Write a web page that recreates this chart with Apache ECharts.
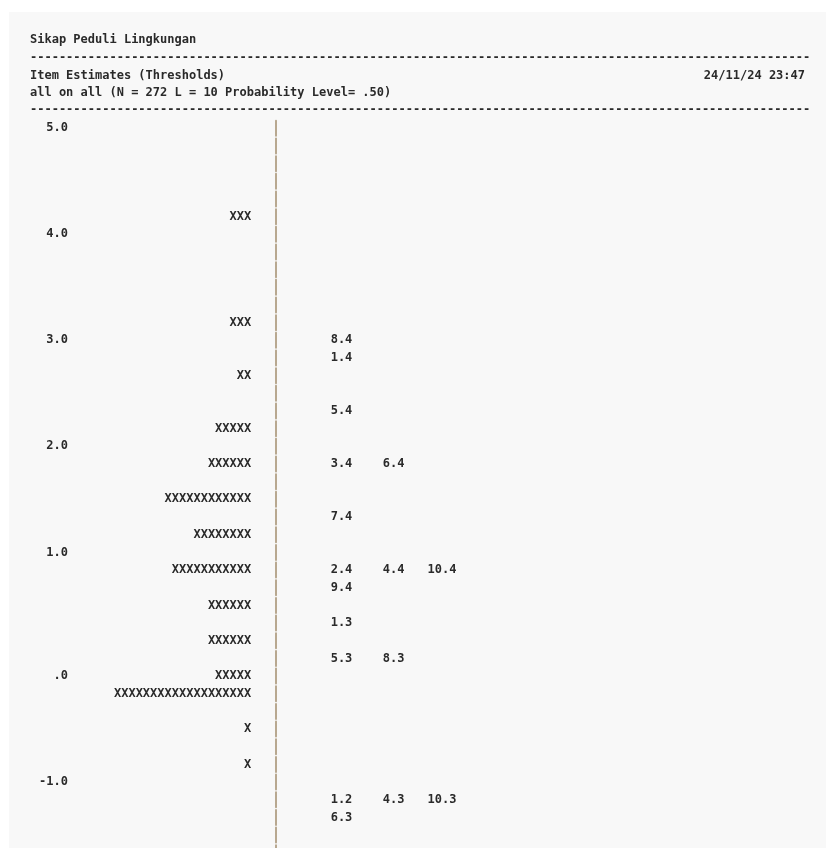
<!DOCTYPE html>
<html><head><meta charset="utf-8">
<script src="https://cdn.jsdelivr.net/npm/echarts@6/dist/echarts.min.js"></script>
<style>html,body{margin:0;padding:0;background:#fff}#c{width:826px;height:848px}</style>
</head><body><div id="c"></div>
<script>
// ---- text of the header ----
const titleText = 'Sikap Peduli Lingkungan';
const subTitle1 = 'Item Estimates (Thresholds)';
const subTitle2 = 'all on all (N = 272 L = 10 Probability Level= .50)';
const dateText = '24/11/24 23:47';

// ---- map rows (row 0 = top line of the map) ----
const rowCount = 42;
const scaleRows = [0, 6, 12, 18, 24, 31, 37];
const scaleLabels = ['5.0', '4.0', '3.0', '2.0', '1.0', '.0', '-1.0'];

// persons: number of X's printed on each row
const personRows = [5, 11, 14, 17, 19, 21, 23, 25, 27, 29, 31, 32, 34, 36];
const personCounts = [3, 3, 2, 5, 6, 12, 8, 11, 6, 6, 5, 19, 1, 1];

// item thresholds: row, column slot within the row, label
const itemRows = [12, 13, 16, 19, 19, 22, 25, 25, 25, 26, 28, 30, 30, 38, 38, 38, 39];
const itemSlots = [0, 0, 0, 0, 1, 0, 0, 1, 2, 0, 0, 0, 1, 0, 1, 2, 0];
const itemLabels = ['8.4', '1.4', '5.4', '3.4', '6.4', '7.4', '2.4', '4.4', '10.4', '9.4', '1.3', '5.3', '8.3', '1.2', '4.3', '10.3', '6.3'];

// ---- styling ----
const FONT_FAMILY = '"DejaVu Sans Mono", "Liberation Mono", monospace';
const FONT = 'bold 12px ' + FONT_FAMILY;
const INK = '#2a2a2a';
const ROW_PITCH = 17.67;
const PERSON_ANCHOR = -3.3;   // chars left of the "|" column (right edge of X runs)
const ITEM_BASE = 10.3;       // chars right of "|" (right edge of first item field)
const ITEM_FIELD = 7;         // chars per item field

const rowCats = Array.from({length: rowCount}, (_, i) => String(i));
const scaleMap = {};
scaleRows.forEach((r, i) => { scaleMap[r] = scaleLabels[i]; });

const personData = personRows.map((r, i) => [PERSON_ANCHOR, r, personCounts[i]]);
const itemData = itemRows.map((r, i) => [ITEM_BASE + itemSlots[i] * ITEM_FIELD, r, itemLabels[i]]);

const dashes = '-'.repeat(108);

const chart = echarts.init(document.getElementById('c'), null, {renderer: 'canvas'});
chart.setOption({
  animation: false,
  backgroundColor: '#ffffff',
  graphic: [
    {type: 'rect', left: 9, top: 12, shape: {width: 817, height: 836}, style: {fill: '#f8f8f8'}, z: -10},
    {type: 'text', left: 30, top: 34, style: {text: titleText, font: FONT, fill: INK}},
    {type: 'text', left: 30, top: 52, style: {text: dashes, font: FONT, fill: INK}},
    {type: 'text', left: 30, top: 70, style: {text: subTitle1, font: FONT, fill: INK}},
    {type: 'text', left: 30, top: 87, style: {text: subTitle2, font: FONT, fill: INK}},
    {type: 'text', right: 21, top: 70, style: {text: dateText, font: FONT, fill: INK}},
    {type: 'text', left: 30, top: 104, style: {text: dashes, font: FONT, fill: INK}}
  ],
  grid: {left: 75, top: 128.3 - ROW_PITCH / 2, width: 751, height: rowCount * ROW_PITCH, containLabel: false, outerBoundsMode: 'none'},
  xAxis: {
    type: 'value', min: -27, max: 74,
    axisLine: {show: false}, axisTick: {show: false}, axisLabel: {show: false}, splitLine: {show: false}
  },
  yAxis: {
    type: 'category', data: rowCats, inverse: true, boundaryGap: true,
    axisLine: {show: true, onZero: true, lineStyle: {color: '#b8a890', width: 2, type: [15, ROW_PITCH - 15], dashOffset: 15 + (ROW_PITCH - 15) / 2}},
    axisTick: {show: false},
    splitLine: {show: false},
    axisLabel: {
      show: true, interval: 0, margin: 7,
      fontFamily: FONT_FAMILY, fontSize: 12, fontWeight: 'bold', color: INK,
      formatter: (v, idx) => scaleMap[idx] || ''
    }
  },
  series: [
    {
      name: 'Persons', type: 'custom', clip: false,
      encode: {x: 0, y: 1},
      data: personData,
      renderItem: (params, api) => {
        const pt = api.coord([api.value(0), api.value(1)]);
        return {type: 'text', x: pt[0], y: pt[1],
          style: {text: 'X'.repeat(api.value(2)), font: FONT, fill: INK, align: 'right', verticalAlign: 'middle'}};
      }
    },
    {
      name: 'Items', type: 'custom', clip: false,
      encode: {x: 0, y: 1},
      data: itemData,
      renderItem: (params, api) => {
        const pt = api.coord([api.value(0), api.value(1)]);
        return {type: 'text', x: pt[0], y: pt[1],
          style: {text: itemData[params.dataIndex][2], font: FONT, fill: INK, align: 'right', verticalAlign: 'middle'}};
      }
    }
  ]
});
</script>
</body></html>
